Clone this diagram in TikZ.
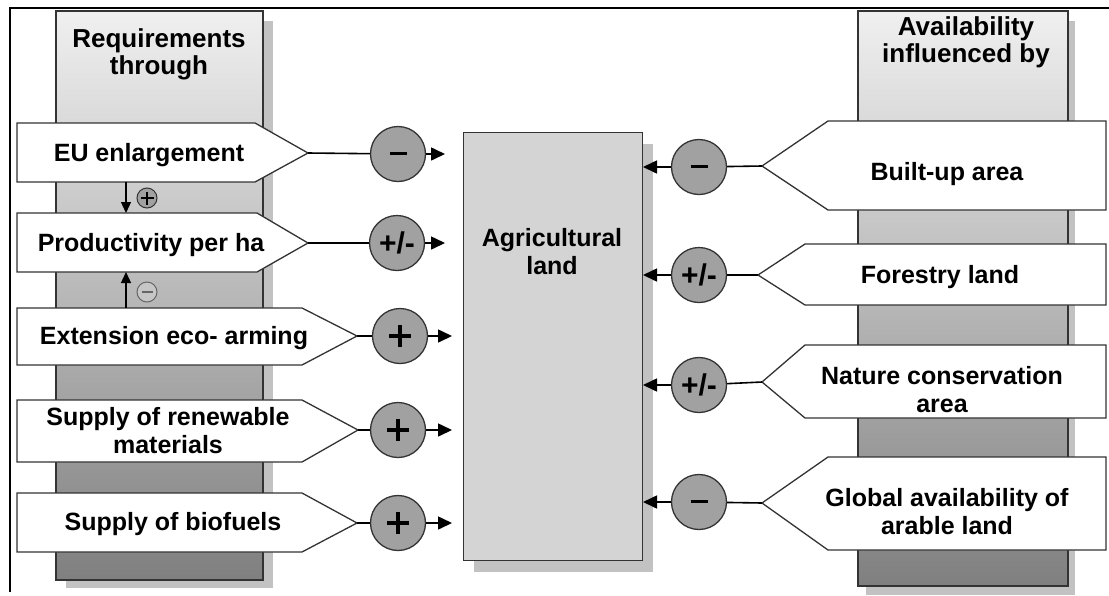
\documentclass[tikz,border=0pt]{standalone}
\usepackage{fontspec}
\setmainfont{Liberation Sans}
\usetikzlibrary{arrows.meta}
\definecolor{shadowgray}{gray}{0.76}
\definecolor{boxgray}{gray}{0.83}
\definecolor{circgray}{gray}{0.63}
\tikzset{
  outline/.style={draw=black!80, line width=1.3pt},
  pent/.style={outline, fill=white},
  lab/.style={font=\fontsize{25}{28}\selectfont\bfseries, align=center, inner sep=0pt},
  head/.style={font=\fontsize{26}{27}\selectfont\bfseries, align=center, inner sep=0pt},
  sign/.style={circle, outline, fill=circgray, minimum size=55pt, inner sep=0pt, font=\fontsize{36}{36}\selectfont},
  smallsign/.style={circle, draw=black!80, line width=1pt, fill=circgray, minimum size=20pt, inner sep=0pt},
  conn/.style={line width=1.6pt, black},
  arr/.style={conn, -{Triangle[length=14pt,width=13pt]}},
}
\newcommand{\plusminus}{{\fontsize{30}{30}\selectfont\bfseries +/-}}
\newcommand{\minussign}{\raisebox{1.5pt}{\rule{17pt}{3.5pt}}}
\newcommand{\plussign}{\makebox[0pt]{\rule[-10pt]{3.6pt}{22pt}}\makebox[0pt]{\raisebox{-0.8pt}{\rule{22pt}{3.6pt}}}}
\newcommand{\smallplus}{\makebox[0pt]{\rule[-6pt]{2.2pt}{13pt}}\makebox[0pt]{\raisebox{-0.6pt}{\rule{13pt}{2.2pt}}}}
\begin{document}
\begin{tikzpicture}[x=1pt,y=-1pt]
\useasboundingbox (0,0) rectangle (1109,595);
% frame
\draw[line width=2.2pt] (1109,8) -- (10,8) -- (10,592);
% columns with shadows
\fill[shadowgray] (66,21) rectangle (273,588);
\shade[top color=gray!12!white, bottom color=black!50!white, outline] (56,11) rectangle (263,580);
\fill[shadowgray] (866,21) rectangle (1075,595);
\shade[top color=gray!12!white, bottom color=black!50!white, outline] (858,11) rectangle (1068,586);
% central box
\fill[shadowgray] (474,144) rectangle (653,572);
\node[outline, fill=boxgray, minimum width=179pt, minimum height=428pt, inner sep=0pt, anchor=north west] (agri) at (463,132) {};
\node[lab] (agrilab) at (552,252) {Agricultural\\land};
% headers
\node[head] (hreq) at (159,54) {Requirements\\through};
\node[head] (hav) at (966,42) {Availability\\influenced by};
% left pentagons
\draw[pent] (17,123) -- (255,123) -- (308,153) coordinate (tEU) -- (255,182) -- (17,182) -- cycle;
\draw[pent] (17,213) -- (257,213) -- (308,243) coordinate (tPR) -- (257,272) -- (17,272) -- cycle;
\draw[pent] (17,308) -- (302,308) -- (357,336) coordinate (tEX) -- (302,365) -- (17,365) -- cycle;
\draw[pent] (17,400) -- (302,400) -- (358,430) coordinate (tRE) -- (302,462) -- (17,462) -- cycle;
\draw[pent] (17,493) -- (302,493) -- (357,523) coordinate (tBI) -- (302,552) -- (17,552) -- cycle;
\node[lab] (lEU) at (149,155) {EU enlargement};
\node[lab] (lPR) at (151,245) {Productivity per ha};
\node[lab] (lEX) at (174,338) {Extension eco- arming};
\node[lab] (lRE) at (168,431) {Supply of renewable\\materials};
\node[lab] (lBI) at (173,524) {Supply of biofuels};
% right pentagons
\draw[pent] (762,166) coordinate (tBU) -- (828,121) -- (1106,121) -- (1106,210) -- (828,210) -- cycle;
\draw[pent] (758,275) coordinate (tFO) -- (805,244) -- (1106,244) -- (1106,305) -- (805,305) -- cycle;
\draw[pent] (762,382) coordinate (tNA) -- (805,345) -- (1106,345) -- (1106,418) -- (805,418) -- cycle;
\draw[pent] (762,503) coordinate (tGL) -- (828,457) -- (1106,457) -- (1106,550) -- (828,550) -- cycle;
\node[lab] (lBU) at (947,174) {Built-up area};
\node[lab] (lFO) at (940,277) {Forestry land};
\node[lab] (lNA) at (942,390) {Nature conservation\\area};
\node[lab] (lGL) at (947,512) {Global availability of\\arable land};
% left circles
\node[sign] (cEU) at (398,154) {\minussign};
\node[sign] (cPR) at (397,243) {\plusminus};
\node[sign] (cEX) at (400,336) {\plussign};
\node[sign] (cRE) at (398,430) {\plussign};
\node[sign] (cBI) at (398,523) {\plussign};
% right circles
\node[sign] (cBU) at (699,167) {\minussign};
\node[sign] (cFO) at (699,275) {\plusminus};
\node[sign] (cNA) at (699,385) {\plusminus};
\node[sign] (cGL) at (699,502) {\minussign};
% arrow end coordinates
\coordinate (eEU) at (445,154);
\coordinate (ePR) at (445,243);
\coordinate (eEX) at (452,336);
\coordinate (eRE) at (452,430);
\coordinate (eBI) at (452,523);
\coordinate (eBU) at (643,167);
\coordinate (eFO) at (643,275);
\coordinate (eNA) at (643,385);
\coordinate (eGL) at (643,502);
% connectors
\foreach \k in {EU,PR,EX,RE,BI,BU,FO,NA,GL}{
  \draw[conn] (t\k) -- (c\k);
  \draw[arr] (c\k) -- (e\k);
}
% small vertical arrows
\coordinate (sEUb) at (126,182);
\coordinate (sPRt) at (126,213);
\coordinate (sPRb) at (126,272);
\coordinate (sEXt) at (126,308);
\draw[conn, line width=1.3pt, -{Triangle[length=11pt,width=10pt]}] (sEUb) -- (sPRt);
\draw[conn, line width=1.3pt, -{Triangle[length=11pt,width=10pt]}] (sEXt) -- (sPRb);
\node[smallsign] (splus) at (147,198) {\smallplus};
\node[smallsign, fill=gray!45, draw=black!60] (sminus) at (147,292) {\color{black!60}\rule{11pt}{1.6pt}};
\end{tikzpicture}
\end{document}
